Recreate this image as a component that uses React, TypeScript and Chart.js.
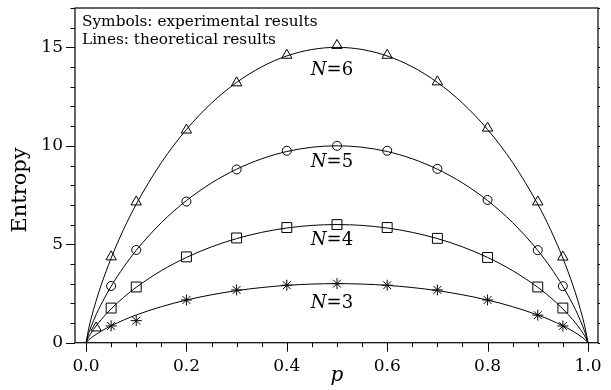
import React, { useEffect, useRef } from "react";
import { Chart, registerables } from "chart.js";

Chart.register(...registerables);

// Theoretical curves (lines)
const pTheory = [0, 0.005, 0.01, 0.02, 0.03, 0.05, 0.075, 0.1, 0.15, 0.2, 0.25, 0.3, 0.35, 0.4, 0.45, 0.5, 0.55, 0.6, 0.65, 0.7, 0.75, 0.8, 0.85, 0.9, 0.925, 0.95, 0.97, 0.98, 0.99, 0.995, 1];
const lineN3 = [0, 0.136, 0.242, 0.424, 0.583, 0.859, 1.153, 1.407, 1.829, 2.166, 2.434, 2.644, 2.802, 2.913, 2.978, 3.0, 2.978, 2.913, 2.802, 2.644, 2.434, 2.166, 1.829, 1.407, 1.153, 0.859, 0.583, 0.424, 0.242, 0.136, 0];
const lineN4 = [0, 0.272, 0.485, 0.848, 1.166, 1.718, 2.306, 2.814, 3.659, 4.331, 4.868, 5.288, 5.605, 5.826, 5.957, 6.0, 5.957, 5.826, 5.605, 5.288, 4.868, 4.331, 3.659, 2.814, 2.306, 1.718, 1.166, 0.848, 0.485, 0.272, 0];
const lineN5 = [0, 0.454, 0.808, 1.414, 1.944, 2.864, 3.843, 4.69, 6.098, 7.219, 8.113, 8.813, 9.341, 9.71, 9.928, 10.0, 9.928, 9.71, 9.341, 8.813, 8.113, 7.219, 6.098, 4.69, 3.843, 2.864, 1.944, 1.414, 0.808, 0.454, 0];
const lineN6 = [0, 0.681, 1.212, 2.121, 2.916, 4.296, 5.765, 7.035, 9.147, 10.829, 12.17, 13.22, 14.012, 14.565, 14.892, 15.0, 14.892, 14.565, 14.012, 13.22, 12.17, 10.829, 9.147, 7.035, 5.765, 4.296, 2.916, 2.121, 1.212, 0.681, 0];

// Experimental results (symbols)
const pExp = [0.05, 0.1, 0.2, 0.3, 0.4, 0.5, 0.6, 0.7, 0.8, 0.9, 0.95];
const pExpN6 = [0.02, 0.05, 0.1, 0.2, 0.3, 0.4, 0.5, 0.6, 0.7, 0.8, 0.9, 0.95];
const expN3 = [0.85, 1.12, 2.17, 2.68, 2.92, 3.0, 2.92, 2.68, 2.17, 1.4, 0.85];
const expN4 = [1.76, 2.83, 4.36, 5.32, 5.85, 6.0, 5.85, 5.3, 4.33, 2.83, 1.76];
const expN5 = [2.88, 4.71, 7.17, 8.8, 9.75, 10.0, 9.75, 8.83, 7.25, 4.7, 2.87];
const expN6 = [0.75, 4.36, 7.15, 10.8, 13.2, 14.6, 15.1, 14.6, 13.25, 10.9, 7.15, 4.35];

// Curve labels
const curveLabels = ["N=3", "N=4", "N=5", "N=6"];
const labelP = [0.49, 0.49, 0.49, 0.49];
const labelY = [2.0, 5.2, 9.15, 13.85];

// Axes
const xTicks = [0, 0.2, 0.4, 0.6, 0.8, 1.0];
const yTicks = [0, 5, 10, 15];
const xMin = -0.022;
const xMax = 1.02;
const yMin = 0;
const yMax = 17;
const legendLines = ["Symbols: experimental results", "Lines: theoretical results"];
const xTitle = "p";
const yTitle = "Entropy";

const pts = (xs: number[], ys: number[]) => xs.map((x, i) => ({ x, y: ys[i] }));

const SERIF = "'DejaVu Serif', serif";

const decorPlugin = {
  id: "decor",
  afterDraw(chart: any) {
    const { ctx, chartArea } = chart;
    const xs = chart.scales.x;
    const ys = chart.scales.y;
    const { left, right, top, bottom } = chartArea;
    ctx.save();
    ctx.strokeStyle = "#000";
    ctx.lineWidth = 1.2;
    ctx.strokeRect(left, top, right - left, bottom - top);
    ctx.lineWidth = 1;
    ctx.beginPath();
    // x ticks
    for (let i = 0; i <= 20; i++) {
      const v = i * 0.05;
      const px = Math.round(xs.getPixelForValue(v)) + 0.5;
      const major = i % 4 === 0;
      ctx.moveTo(px, bottom);
      ctx.lineTo(px, bottom + (major ? 9 : 4.5));
    }
    // y ticks
    for (let v = 0; v <= 17; v++) {
      const py = Math.round(ys.getPixelForValue(v)) + 0.5;
      const major = v % 5 === 0;
      ctx.moveTo(left, py);
      ctx.lineTo(left - (major ? 9 : 4.5), py);
      ctx.moveTo(right, py);
      ctx.lineTo(right + 2, py);
    }
    ctx.stroke();

    // Legend text
    ctx.fillStyle = "#000";
    ctx.font = `15.3px ${SERIF}`;
    ctx.textAlign = "left";
    ctx.textBaseline = "alphabetic";
    ctx.fillText(legendLines[0], left + 7, top + 18);
    ctx.fillText(legendLines[1], left + 7, top + 35.5);

    // Curve labels: italic N + upright "=k"
    ctx.textBaseline = "middle";
    curveLabels.forEach((lab, i) => {
      const cx = xs.getPixelForValue(labelP[i]);
      const cy = ys.getPixelForValue(labelY[i]);
      const head = lab.slice(0, 1);
      const tail = lab.slice(1);
      ctx.font = `italic 18px ${SERIF}`;
      const w1 = ctx.measureText(head).width;
      ctx.font = `18px ${SERIF}`;
      const w2 = ctx.measureText(tail).width;
      const x0 = cx - (w1 + w2) / 2;
      ctx.font = `italic 18px ${SERIF}`;
      ctx.fillText(head, x0, cy);
      ctx.font = `18px ${SERIF}`;
      ctx.fillText(tail, x0 + w1, cy);
    });

    // Axis titles
    ctx.textAlign = "center";
    ctx.font = `italic 20px ${SERIF}`;
    ctx.textBaseline = "middle";
    ctx.fillText(xTitle, xs.getPixelForValue(0.5), 376);
    ctx.save();
    ctx.translate(21, 190);
    ctx.rotate(-Math.PI / 2);
    ctx.font = `21px ${SERIF}`;
    ctx.fillText(yTitle, 0, 0);
    ctx.restore();
    ctx.restore();
  },
};

export default function App() {
  const ref = useRef<HTMLCanvasElement | null>(null);
  useEffect(() => {
    document.body.style.margin = "0";
    const canvas = ref.current;
    if (!canvas) return;
    const lineDs = (data: number[]) => ({
      data: pts(pTheory, data),
      showLine: true,
      borderColor: "#000",
      borderWidth: 1,
      pointRadius: 0,
      cubicInterpolationMode: "monotone" as const,
      fill: false,
    });
    const symDs = (xsArr: number[], data: number[], style: string, r: number) => ({
      data: pts(xsArr, data),
      showLine: false,
      pointStyle: style,
      pointRadius: r,
      pointBorderColor: "#000",
      pointBackgroundColor: "rgba(0,0,0,0)",
      pointBorderWidth: 1,
      borderColor: "#000",
      backgroundColor: "rgba(0,0,0,0)",
    });
    const chart = new Chart(canvas, {
      type: "scatter",
      data: {
        datasets: [
          lineDs(lineN3),
          lineDs(lineN4),
          lineDs(lineN5),
          lineDs(lineN6),
          symDs(pExp, expN3, "star", 5.5),
          symDs(pExp, expN4, "rect", 7),
          symDs(pExp, expN5, "circle", 4.5),
          symDs(pExpN6, expN6, "triangle", 6),
        ] as any,
      },
      options: {
        animation: false,
        responsive: false,
        maintainAspectRatio: false,
        events: [],
        layout: { padding: { top: 8, right: 13, left: 0, bottom: 0 } },
        plugins: { legend: { display: false }, tooltip: { enabled: false }, title: { display: false } },
        scales: {
          x: {
            type: "linear",
            min: xMin,
            max: xMax,
            grid: { display: false, drawTicks: false },
            border: { display: false },
            afterFit: (s: any) => {
              s.height = 390 - 342.7;
              s.paddingLeft = 0;
              s.paddingRight = 0;
              s.paddingTop = 0;
              s.paddingBottom = 0;
            },
            afterBuildTicks: (s: any) => { s.ticks = xTicks.map((v) => ({ value: v })); },
            ticks: {
              padding: 14,
              color: "#000",
              font: { family: "DejaVu Serif", size: 17 },
              maxRotation: 0,
              autoSkip: false,
              callback: (v: any) => Number(v).toFixed(1),
            },
          },
          y: {
            type: "linear",
            min: yMin,
            max: yMax,
            grid: { display: false, drawTicks: false },
            border: { display: false },
            afterFit: (s: any) => {
              s.width = 75;
              s.paddingLeft = 0;
              s.paddingRight = 0;
              s.paddingTop = 0;
              s.paddingBottom = 0;
            },
            afterBuildTicks: (s: any) => { s.ticks = yTicks.map((v) => ({ value: v })); },
            ticks: {
              padding: 12,
              color: "#000",
              font: { family: "DejaVu Serif", size: 17 },
              autoSkip: false,
              callback: (v: any) => String(v),
            },
          },
        },
      },
      plugins: [decorPlugin],
    });
    return () => chart.destroy();
  }, []);
  return (
    <div style={{ width: 611, height: 390 }}>
      <canvas ref={ref} width={611} height={390} style={{ display: "block", width: 611, height: 390 }} />
    </div>
  );
}
